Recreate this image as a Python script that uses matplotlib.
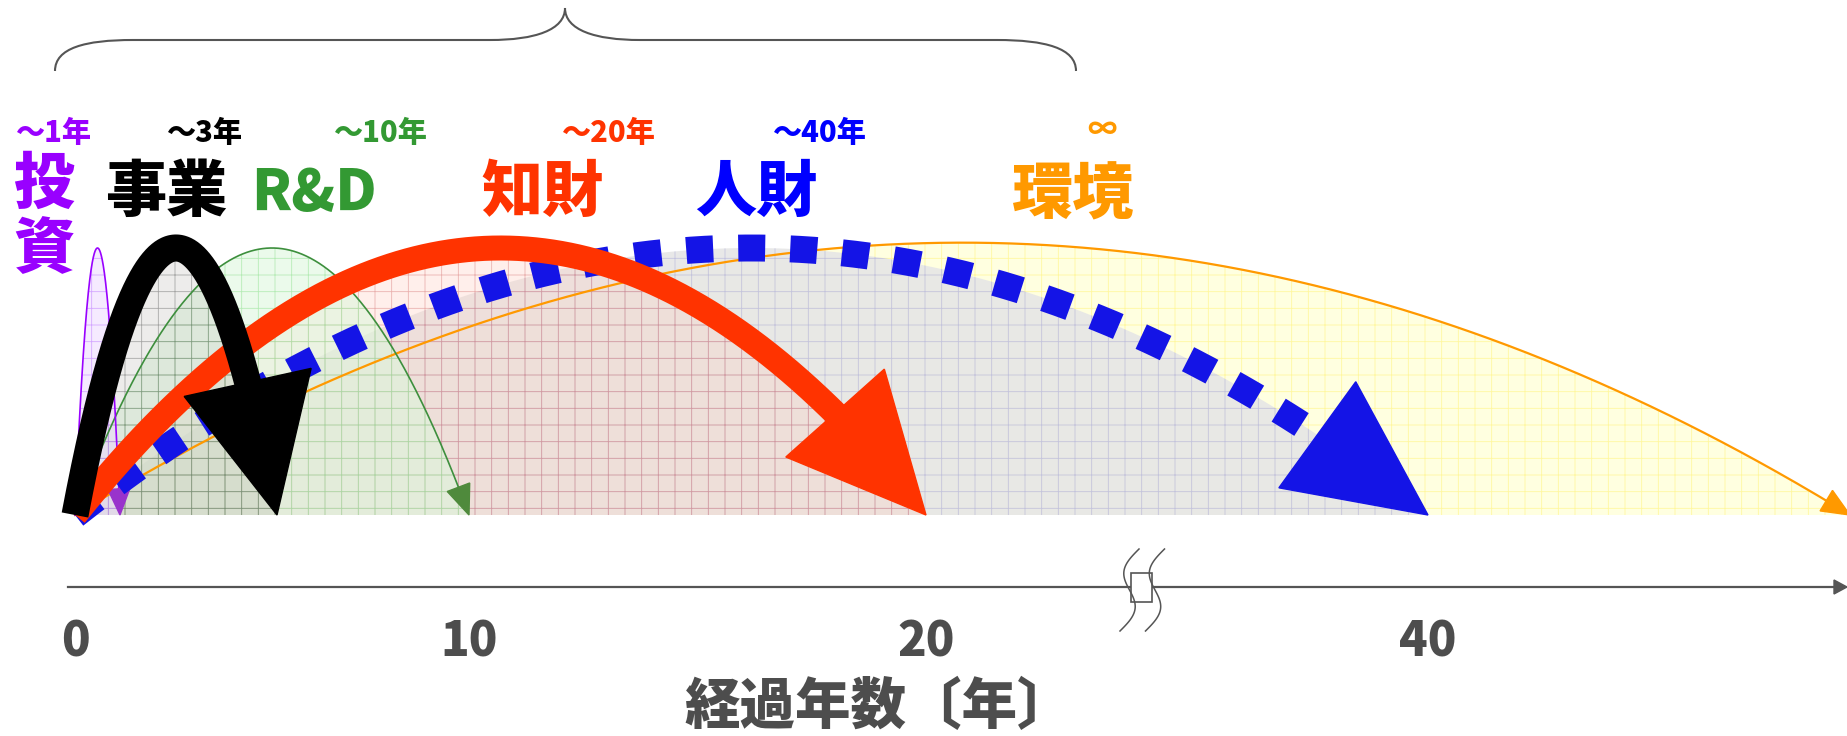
import numpy as np
import matplotlib
matplotlib.use('Agg')
import matplotlib.pyplot as plt
from matplotlib.patches import Polygon, PathPatch, Rectangle
from matplotlib.path import Path
from matplotlib import transforms

plt.rcParams['font.family'] = ['Noto Sans CJK JP', 'DejaVu Sans']
plt.rcParams['hatch.linewidth'] = 0.6

W, H = 1847, 736

# chart content
labels = ['投資', '事業', 'R&D', '知財', '人財', '環境']
spans = ['～1年', '～3年', '～10年', '～20年', '～40年', '∞']
years = [1, 3, 10, 20, 40, np.inf]
peaks = [1.0, 1.0, 1.0, 1.0, 1.0, 1.02]
tick_years = [0, 10, 20, 40]
xlabel = '経過年数〔年〕'

text_colors = ['#9900ff', '#000000', '#339933', '#ff3300', '#0000ff', '#ff9900']

# the time axis is not linear (conceptual diagram, with a break after 20)
INF_POS = 100
knot_years = [0, 1, 3, 10, 20, 40, INF_POS]
knot_pos = [0, 45, 202, 394, 851, 1353, 1775]


def fwd(x):
    return np.interp(x, knot_years, knot_pos)


def inv(u):
    return np.interp(u, knot_pos, knot_years)


fig = plt.figure(figsize=(W / 100, H / 100), dpi=100)
ax = fig.add_axes([75 / W, (H - 515) / H, 1775 / W, 267 / H])
ax.set_xscale('function', functions=(fwd, inv))
ax.set_xlim(0, INF_POS)
ax.set_ylim(0, 1)
ax.axis('off')

# overlay in pixel coords for annotations
ov = fig.add_axes([0, 0, 1, 1], zorder=5)
ov.set_xlim(0, W)
ov.set_ylim(H, 0)
ov.axis('off')


def arc(end, peak, n=600):
    ue = fwd(end)
    u = np.linspace(0, ue, n)
    return inv(u), peak * 4 * (u / ue) * (1 - u / ue)


def arrow_head(x, y, length, width, stop=0.6):
    pts = ax.transData.transform(np.column_stack([x, y]))
    tip = pts[-1]
    dist = np.hypot(*(pts - tip).T)
    k = np.nonzero(dist >= length)[0][-1]
    base = pts[k]
    d = (tip - base) / np.hypot(*(tip - base))
    nrm = np.array([-d[1], d[0]])
    tri = np.array([tip, base + nrm * width / 2, base - nrm * width / 2])
    kk = np.nonzero(dist >= length * stop)[0][-1]
    return ax.transData.inverted().transform(tri), kk


ends = [min(v, INF_POS) for v in years]
curves = [arc(e, p) for e, p in zip(ends, peaks)]

# shaded areas with grid texture
fills = [
    ((0.93, 0.85, 1.0, 0.55), (0.7, 0.4, 1.0, 0.5), 1.5),    # 投資
    ((0.62, 0.6, 0.58, 0.18), (0.25, 0.25, 0.25, 0.4), 1.4),  # 事業
    ((0.86, 0.97, 0.86, 0.55), (0.55, 0.88, 0.55, 0.55), 1.3),  # R&D
    ((1.0, 0.8, 0.75, 0.3), (0.8, 0.35, 0.35, 0.4), 1.2),   # 知財
    ((0.9, 0.9, 0.9, 0.9), (0.68, 0.68, 0.86, 0.6), 1.1),  # 人財
    ((1.0, 1.0, 0.88, 1.0), (1.0, 0.97, 0.6, 0.9), 1.0),    # 環境
]
for (x, y), (fc, hc, z) in zip(curves, fills):
    ax.fill(x, y, facecolor=fc, edgecolor=hc, hatch='+', linewidth=0,
            zorder=z, clip_on=False)

# 環境 : thin orange
x, y = curves[5]
tri, k = arrow_head(x, y, 26, 24)
ax.plot(x[:k + 1], y[:k + 1], color='#ff9900', lw=1.6, zorder=3, clip_on=False)
ax.add_patch(Polygon(tri, closed=True, color='#ff9900', zorder=3, clip_on=False))

# R&D : thin green
x, y = curves[2]
tri, k = arrow_head(x, y, 28, 24)
ax.plot(x[:k + 1], y[:k + 1], color='#3d8f3d', lw=1.2, zorder=3, clip_on=False)
ax.add_patch(Polygon(tri, closed=True, color='#4f8a3c', zorder=3, clip_on=False))

# 投資 : thin purple
x, y = curves[0]
tri, k = arrow_head(x, y, 26, 22)
ax.plot(x[:k + 1], y[:k + 1], color='#9900ff', lw=1.2, zorder=3, clip_on=False)
ax.add_patch(Polygon(tri, closed=True, color='#9933cc', zorder=3, clip_on=False))

# 人財 : thick blue dashes
x, y = curves[4]
tri, k = arrow_head(x, y, 135, 131, stop=1.0)
ax.plot(x[:k + 1], y[:k + 1], color='#1414e6', lw=19.4, dashes=(1.0, 0.93),
        dash_capstyle='butt', zorder=4, clip_on=False)
ax.add_patch(Polygon(tri, closed=True, color='#1414e6', zorder=4, clip_on=False))

# 知財 : thick red
x, y = curves[3]
tri, k = arrow_head(x, y, 135, 132)
ax.plot(x[:k + 1], y[:k + 1], color='#ff3300', lw=18, zorder=5,
        solid_capstyle='butt', clip_on=False)
ax.add_patch(Polygon(tri, closed=True, color='#ff3300', zorder=5, clip_on=False))

# 事業 : thick black
x, y = curves[1]
tri, k = arrow_head(x, y, 135, 130)
ax.plot(x[:k + 1], y[:k + 1], color='black', lw=19.5, zorder=6,
        solid_capstyle='butt', clip_on=False)
ax.add_patch(Polygon(tri, closed=True, color='black', zorder=6, clip_on=False))

# labels
span_pos = [(54, 133), (205, 133), (381, 133), (609, 133), (820, 133), (1102, 130)]
label_pos = [(44, 185), (166, 193), (314, 193), (543, 193), (756, 193), (1073, 195)]
for s, (px, py), c in zip(spans, span_pos, text_colors):
    ov.text(px, py, s, color=c, fontsize=21, fontweight='black',
            ha='center', va='center')
for lab, (px, py), c in zip(labels, label_pos, text_colors):
    if lab == '投資':
        ov.text(px, py, lab[0], color=c, fontsize=44, fontweight='black',
                ha='center', va='center')
        ov.text(px, py + 65, lab[1], color=c, fontsize=44, fontweight='black',
                ha='center', va='center')
    else:
        fs = 41 if lab == 'R&D' else 44
        ov.text(px, py, lab, color=c, fontsize=fs, fontweight='black',
                ha='center', va='center')

# brace on top
verts = [(55, 71), (55, 48), (85, 40), (133, 40),
         (490, 40),
         (535, 40), (565, 30), (565, 8),
         (565, 30), (595, 40), (640, 40),
         (997, 40),
         (1045, 40), (1076, 48), (1076, 71)]
codes = [Path.MOVETO, Path.CURVE4, Path.CURVE4, Path.CURVE4,
         Path.LINETO,
         Path.CURVE4, Path.CURVE4, Path.CURVE4,
         Path.CURVE4, Path.CURVE4, Path.CURVE4,
         Path.LINETO,
         Path.CURVE4, Path.CURVE4, Path.CURVE4]
ov.add_patch(PathPatch(Path(verts, codes), facecolor='none', edgecolor='#555555', lw=1.5))

# time axis
axis_col = '#555555'
ov.plot([68, 1836], [587, 587], color=axis_col, lw=1.6)
ov.add_patch(Polygon([[1847, 587], [1834, 580], [1834, 594]], closed=True, color=axis_col))
ov.add_patch(Rectangle((1131, 573), 21, 29, facecolor='white', edgecolor=axis_col, lw=1.2, zorder=3))
s = np.linspace(0, 1, 100)
for xc in (1129.5, 1155):
    ov.plot(xc + 9.5 * (1 - 2 * s) - 10 * np.sin(2 * np.pi * s), 549 + 82 * s,
            color=axis_col, lw=1.1, zorder=4)

tick_tr = transforms.blended_transform_factory(ax.transData, ov.transData)
for t in tick_years:
    ov.text(t, 642, str(t), transform=tick_tr, color='#4d4d4d', fontsize=34,
            fontweight='black', ha='center', va='center')

ov.text(879, 707, xlabel, color='#4d4d4d', fontsize=40, fontweight='black',
        ha='center', va='center')

fig.savefig('out.png', dpi=100)
